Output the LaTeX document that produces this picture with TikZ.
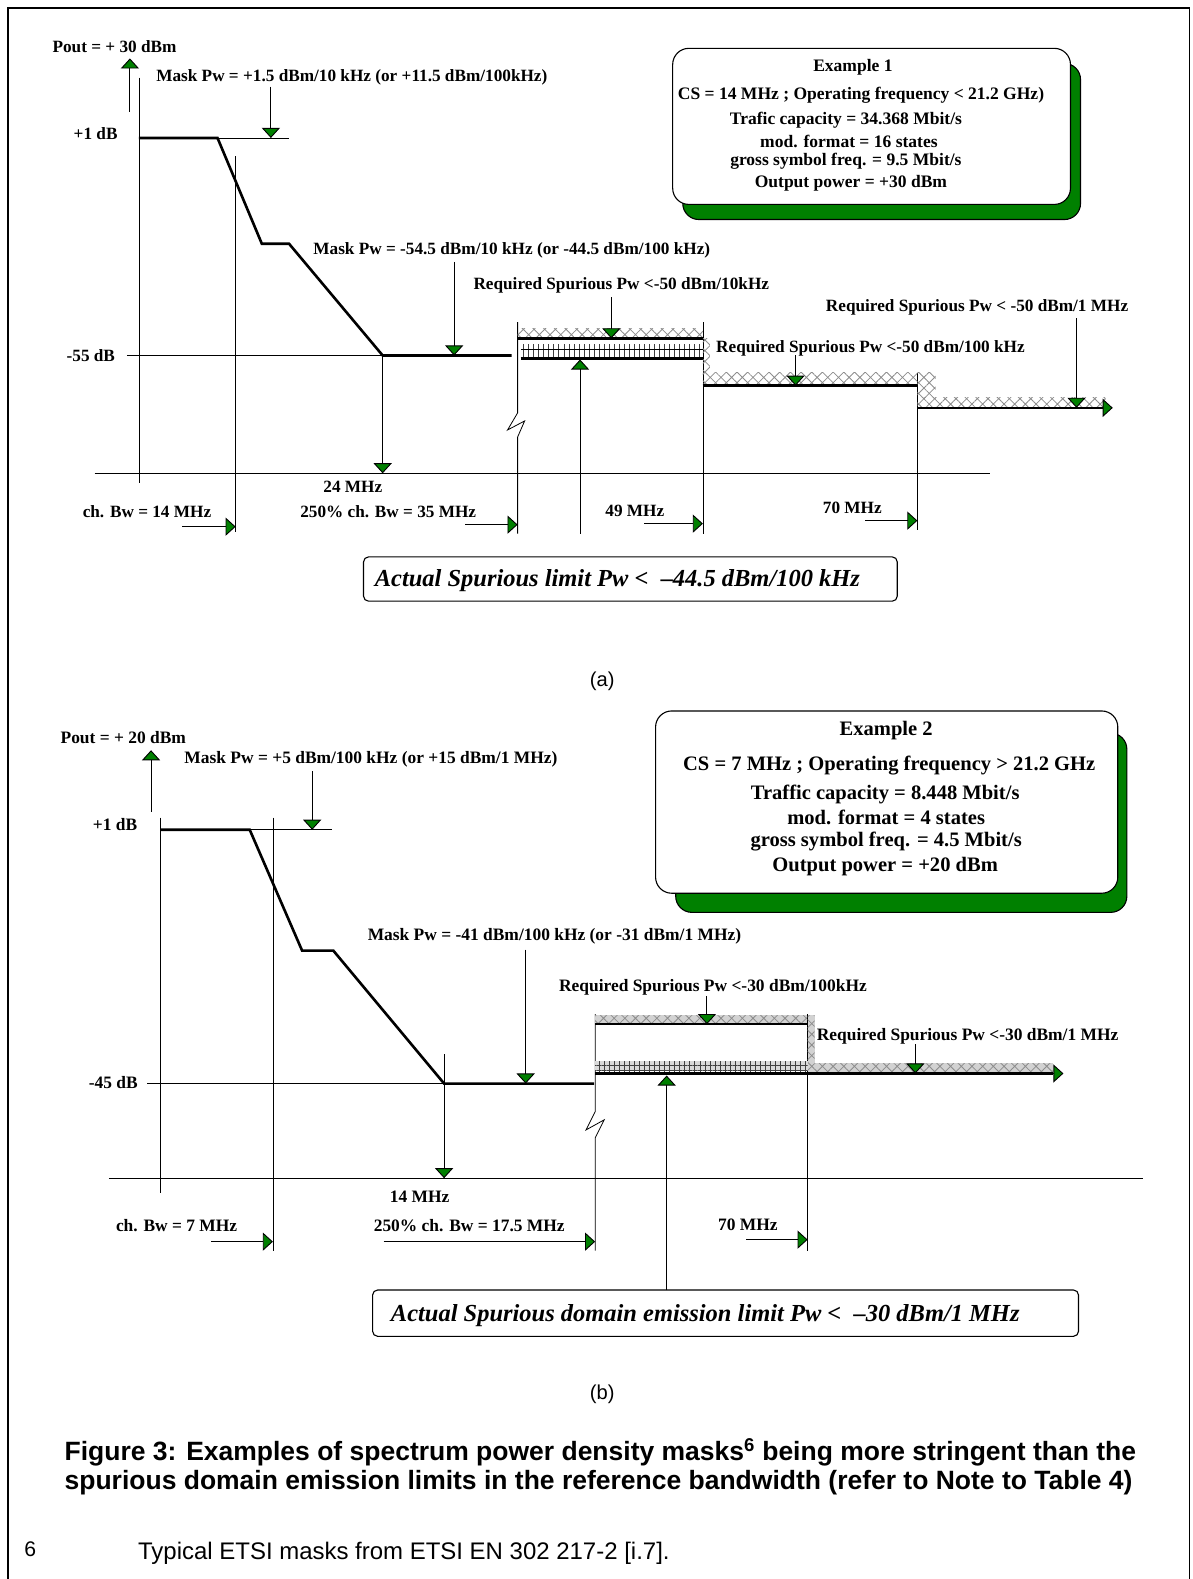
\documentclass[tikz,border=0pt]{standalone}
\usepackage{fontspec}
\setmainfont{Liberation Serif}
\newfontfamily\arialf{Liberation Sans}
\usetikzlibrary{arrows.meta,patterns.meta}
\definecolor{dkgreen}{RGB}{0,128,0}
\tikzset{
  lbl/.style={font=\fontsize{17.1}{19}\selectfont\bfseries, inner sep=0pt, anchor=west},
  lblb/.style={font=\fontsize{17.3}{19}\selectfont\bfseries, inner sep=0pt, anchor=west},
  boxa/.style={font=\fontsize{17.4}{19}\selectfont\bfseries, inner sep=0pt},
  boxb/.style={font=\fontsize{20.4}{22}\selectfont\bfseries, inner sep=0pt},
  ital/.style={font=\fontsize{24.3}{26}\selectfont\bfseries\itshape, inner sep=0pt, anchor=west},
  thinl/.style={line width=0.8pt},
  axisl/.style={line width=1.3pt},
  thickl/.style={line width=2.6pt},
  garrow/.style={line width=0.9pt, -{Triangle[width=18pt,length=10pt,fill=dkgreen]}},
  hatchx/.style={pattern={Hatch[angle=45,distance=7.5pt,line width=0.8pt]}, pattern color=black!45},
  ticks/.style={pattern={Lines[angle=90,distance=5pt,line width=0.8pt]}, pattern color=black!75},
  gridp/.style={pattern={Hatch[angle=0,distance=5pt,line width=0.7pt]}, pattern color=black!75},
  exbox/.style={draw=black, line width=1.1pt, rounded corners=16pt, fill=white},
  exshadow/.style={draw=black, line width=1.1pt, rounded corners=16pt, fill=dkgreen},
  limbox/.style={draw=black, line width=1.1pt, rounded corners=5pt},
}
\begin{document}
\begin{tikzpicture}[x=1pt,y=-1pt]
\useasboundingbox (0,0) rectangle (1183.7,1568);
% page frame
\draw[line width=1.3pt] (8,1580) -- (8,8) -- (1181,8) -- (1181,1580);

%%%%%%%%%%%%%%%%%%%% (a) %%%%%%%%%%%%%%%%%%%%
% example 1 box
\draw[exshadow] (678,63) rectangle (1073,218);
\draw[exbox] (668,48) rectangle (1063,203);
\node[boxa] (e1a) at (847,67) {Example 1};
\node[boxa] (e1b) at (855,95) {CS = 14 MHz ; Operating frequency < 21.2 GHz)};
\node[boxa] (e1c) at (840,119) {Trafic capacity = 34.368 Mbit/s};
\node[boxa] (e1d) at (843,140) {mod. format = 16 states};
\node[boxa] (e1e) at (840,160) {gross symbol freq. = 9.5 Mbit/s};
\node[boxa] (e1f) at (845,182) {Output power = +30 dBm};

% axes
\draw[thinl] (138,77) -- (138,480);
\draw[axisl] (94,470) -- (983,470);
\node[lbl] (apout) at (52,46) {Pout = + 30 dBm};
\draw[garrow] (129,111) -- (129,58);
\node[lbl] (amask1) at (155,77) {Mask Pw = +1.5 dBm/10 kHz (or +11.5 dBm/100kHz)};
\draw[garrow] (269,86) -- (269,137);
\draw[thinl] (216,137) -- (287,137);
\node[lbl] (aone) at (73,133) {+1 dB};
% mask
\draw[thickl] (138,137) -- (216,137) -- (260,242) -- (287,242) -- (380,353) -- (508,353);
\draw[thinl] (126,353) -- (380,353);
\node[lbl] (a55) at (66,353) {-55 dB};
% ch bw
\draw[thinl] (234,155) -- (234,528);
\draw[garrow] (181,523) -- (234,523);
\node[lbl] (achbw) at (82,508) {ch. Bw = 14 MHz};
% 24 MHz
\draw[garrow] (380,353) -- (380,470);
\node[lbl] (a24) at (321,483) {24 MHz};
% mask 2
\node[lbl] (amask2) at (311,249) {Mask Pw = -54.5 dBm/10 kHz (or -44.5 dBm/100 kHz)};
\draw[garrow] (451,260) -- (451,353);
% 35 MHz vertical with break
\draw[thinl] (514,320) -- (514,410) -- (504,427) -- (521,418) -- (514,434) -- (514,530);
\draw[garrow] (462,521) -- (514,521);
\node[lbl] (a250) at (298,508) {250\% ch. Bw = 35 MHz};
% band 1 (10 kHz)
\fill[hatchx] (514,326) rectangle (698,336);
\draw[thickl] (514,336) -- (698,336);
\node[lbl] (areq1) at (470,283) {Required Spurious Pw <-50 dBm/10kHz};
\draw[garrow] (607,295) -- (607,336);
% band 2 (actual)
\fill[ticks] (517,342) rectangle (698,356);
\draw[thinl] (517,347) -- (698,347);
\draw[thickl] (517,356) -- (698,356);
\draw[garrow] (576,530) -- (576,357);
% 49 MHz vertical
\draw[thinl] (698,320) -- (698,530);
\draw[garrow] (640,520) -- (698,520);
\node[lbl] (a49) at (601,507) {49 MHz};
% step 100 kHz
\fill[hatchx] (698,336) rectangle (705,372);
\fill[hatchx] (698,370) rectangle (911,383);
\draw[thickl] (698,383) -- (911,383);
\node[lbl] (areq2) at (711,346) {Required Spurious Pw <-50 dBm/100 kHz};
\draw[garrow] (790,353) -- (790,383);
% 70 MHz vertical
\draw[thinl] (911,370) -- (911,526);
\draw[garrow] (859,517) -- (911,517);
\node[lbl] (a70) at (817,504) {70 MHz};
% step 1 MHz
\fill[hatchx] (911,370) rectangle (929,396);
\fill[hatchx] (911,395) rectangle (1098,405);
\draw[thickl] (911,405) -- (1095,405);
\draw[garrow] (1090,405) -- (1105,405);
\node[lbl] (areq3) at (820,305) {Required Spurious Pw < -50 dBm/1 MHz};
\draw[garrow] (1069,316) -- (1069,405);
% actual limit box
\draw[limbox] (361,553) rectangle (891,597);
\node[ital] (alim) at (372,577) {Actual Spurious limit Pw <\ \ –44.5 dBm/100 kHz};
\node[font=\arialf\fontsize{20}{22}\selectfont, inner sep=0pt] (lbla) at (598,677) {(a)};

%%%%%%%%%%%%%%%%%%%% (b) %%%%%%%%%%%%%%%%%%%%
\draw[exshadow] (671,728) rectangle (1119,906);
\draw[exbox] (651,706) rectangle (1110,887);
\node[boxb] (e2a) at (880,725) {Example 2};
\node[boxb] (e2b) at (883,760) {CS = 7 MHz ; Operating frequency > 21.2 GHz};
\node[boxb] (e2c) at (879,789) {Traffic capacity = 8.448 Mbit/s};
\node[boxb] (e2d) at (880,812) {mod. format = 4 states};
\node[boxb] (e2e) at (880,836) {gross symbol freq. = 4.5 Mbit/s};
\node[boxb] (e2f) at (879,861) {Output power = +20 dBm};

\draw[thinl] (159,812) -- (159,1185);
\draw[axisl] (108,1170) -- (1135,1170);
\node[lblb] (bpout) at (60,732) {Pout = + 20 dBm};
\draw[garrow] (150,806) -- (150,745);
\node[lblb] (bmask1) at (183,754) {Mask Pw = +5 dBm/100 kHz (or +15 dBm/1 MHz)};
\draw[garrow] (310,766) -- (310,824);
\draw[thinl] (248,824) -- (330,824);
\node[lblb] (bone) at (92,819) {+1 dB};
\draw[thickl] (159,824) -- (248,824) -- (300,944) -- (331,944) -- (441,1076) -- (590,1076);
\draw[thinl] (146,1076) -- (441,1076);
\node[lblb] (b45) at (88,1075) {-45 dB};
\draw[thinl] (271,812) -- (271,1242);
\draw[garrow] (210,1233) -- (271,1233);
\node[lblb] (bchbw) at (115,1217) {ch. Bw = 7 MHz};
\draw[thinl] (441,1047) -- (441,1076);
\draw[garrow] (441,1076) -- (441,1170);
\node[lblb] (b14) at (387,1188) {14 MHz};
\node[lblb] (bmask2) at (365,930) {Mask Pw = -41 dBm/100 kHz (or -31 dBm/1 MHz)};
\draw[garrow] (522,943) -- (522,1076);
% break vertical
\draw[thinl] (591,1007) -- (591,1104) -- (582,1122) -- (600,1112) -- (591,1130) -- (591,1242);
\draw[garrow] (381,1233) -- (591,1233);
\node[lblb] (b250) at (371,1217) {250\% ch. Bw = 17.5 MHz};
% band 1
\fill[gray!35] (591,1008) rectangle (802,1017);
\fill[hatchx] (591,1008) rectangle (802,1017);
\draw[thickl] (591,1017) -- (802,1017);
\node[lblb] (breq1) at (555,980) {Required Spurious Pw <-30 dBm/100kHz};
\draw[garrow] (702,989) -- (702,1017);
% 70 MHz
\draw[thinl] (802,1007) -- (802,1242);
\draw[garrow] (741,1231) -- (802,1231);
\node[lblb] (b70) at (713,1216) {70 MHz};
% column + right band
\fill[gray!35] (802,1008) rectangle (809,1057);
\fill[hatchx] (802,1008) rectangle (809,1057);
\fill[gray!35] (802,1056) rectangle (1046,1065);
\fill[hatchx] (802,1056) rectangle (1046,1065);
% band 2 (actual)
\fill[gray!30] (591,1054) rectangle (802,1064);
\fill[gridp] (591,1054) rectangle (802,1064);
\draw[thickl] (591,1066) -- (1046,1066);
\draw[garrow] (1040,1066) -- (1056,1066);
\node[lblb] (breq2) at (811,1029) {Required Spurious Pw <-30 dBm/1 MHz};
\draw[garrow] (909,1037) -- (909,1066);
\draw[garrow] (662,1281) -- (662,1068);
% limit box
\draw[limbox] (370,1281) rectangle (1071,1327);
\node[ital] (blim) at (388,1306) {Actual Spurious domain emission limit Pw <\ \ –30 dBm/1 MHz};
\node[font=\arialf\fontsize{20}{22}\selectfont, inner sep=0pt] (lblb2) at (598,1385) {(b)};

%%%%%%%%%%%%%%%%%%%% caption %%%%%%%%%%%%%%%%%%%%
\node[font=\arialf\bfseries\fontsize{26.3}{30}\selectfont, inner sep=0pt, anchor=west] (cap1) at (64,1442) {Figure 3: Examples of spectrum power density masks\textsuperscript{6} being more stringent than the};
\node[font=\arialf\bfseries\fontsize{26.3}{30}\selectfont, inner sep=0pt, anchor=west] (cap2) at (64,1472) {spurious domain emission limits in the reference bandwidth (refer to Note to Table 4)};
\node[font=\arialf\fontsize{21}{22}\selectfont, inner sep=0pt, anchor=west] (fn6) at (24,1538) {6};
\node[font=\arialf\fontsize{23.8}{26}\selectfont, inner sep=0pt, anchor=west] (fntext) at (137,1542) {Typical ETSI masks from ETSI EN 302 217-2 [i.7].};
\end{tikzpicture}
\end{document}
